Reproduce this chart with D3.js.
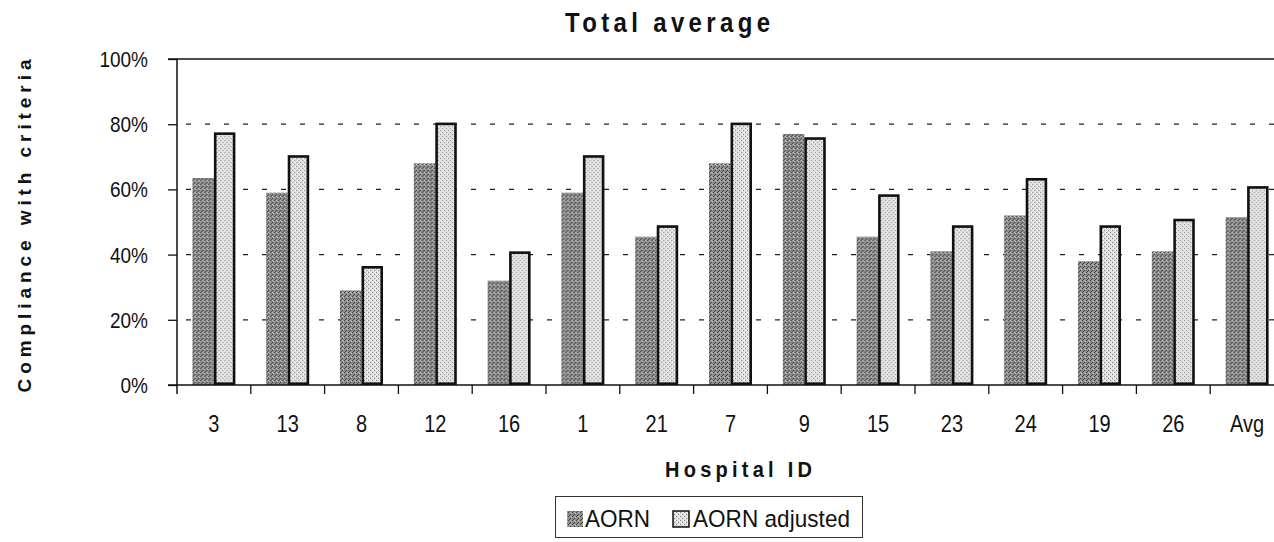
<!DOCTYPE html>
<html>
<head>
<meta charset="utf-8">
<script src="https://cdn.jsdelivr.net/npm/d3@7"></script>
<style>
  html, body { margin: 0; padding: 0; background: #fff; }
  svg { display: block; }
  text { font-family: Arial, "Liberation Sans", "DejaVu Sans", sans-serif; font-stretch: normal; fill: #111; }
</style>
</head>
<body>
<svg id="chart" width="1274" height="542"></svg>
<script>
// Hospital IDs along the x axis
const hospitals = ["3", "13", "8", "12", "16", "1", "21", "7", "9", "15", "23", "24", "19", "26", "Avg"];
// Compliance with criteria (%)
const aorn         = [63.5, 59, 29, 68, 32, 59, 45.5, 68, 77, 45.5, 41, 52, 38, 41, 51.5];
const aornAdjusted = [77.5, 70.5, 36.5, 80.5, 41, 70.5, 49, 80.5, 76, 58.5, 49, 63.5, 49, 51, 61];
const seriesNames  = ["AORN", "AORN adjusted"];
const yTicks       = [0, 20, 40, 60, 80, 100];

const svg = d3.select("#chart");
const STRETCH = 1.12;   // tall glyph proportion used by the labels

// textures for the two series
const defs = svg.append("defs");
const dark = defs.append("pattern").attr("id", "texDark")
  .attr("patternUnits", "userSpaceOnUse").attr("width", 4).attr("height", 4);
dark.append("rect").attr("width", 4).attr("height", 4).attr("fill", "#8e8e8e");
[[0,0],[2,2],[1,3]].forEach(([x,y]) => dark.append("rect").attr("x", x).attr("y", y)
  .attr("width", 1).attr("height", 1).attr("fill", "#444"));
[[2,0],[3,1]].forEach(([x,y]) => dark.append("rect").attr("x", x).attr("y", y)
  .attr("width", 1).attr("height", 1).attr("fill", "#bdbdbd"));

const light = defs.append("pattern").attr("id", "texLight")
  .attr("patternUnits", "userSpaceOnUse").attr("width", 4).attr("height", 4);
light.append("rect").attr("width", 4).attr("height", 4).attr("fill", "#dedede");
[[0,0],[2,2]].forEach(([x,y]) => light.append("rect").attr("x", x).attr("y", y)
  .attr("width", 1).attr("height", 1).attr("fill", "#8a8a8a"));
[[1,2],[3,0]].forEach(([x,y]) => light.append("rect").attr("x", x).attr("y", y)
  .attr("width", 1).attr("height", 1).attr("fill", "#ffffff"));

const plot = { left: 177, right: 1284, top: 59, bottom: 385 };

const x0 = d3.scaleBand().domain(hospitals).range([plot.left, plot.right]).padding(0);
const x1 = d3.scaleBand().domain(seriesNames).range([0, 43]).padding(0);
const groupOffset = (x0.bandwidth() - 43) / 2;
const y = d3.scaleLinear().domain([0, 100]).range([plot.bottom, plot.top]);

// dashed gridlines
svg.append("g").selectAll("line").data(yTicks.filter(t => t > 0 && t < 100)).join("line")
  .attr("x1", plot.left).attr("x2", 1274)
  .attr("y1", d => y(d)).attr("y2", d => y(d))
  .attr("stroke", "#222").attr("stroke-width", 1.3).attr("stroke-dasharray", "5,14")
  .attr("stroke-dashoffset", -9);

// solid line at 100%
svg.append("line").attr("x1", 168).attr("x2", 1274)
  .attr("y1", y(100)).attr("y2", y(100))
  .attr("stroke", "#111").attr("stroke-width", 1.5);

// bars
const rows = hospitals.map((h, i) => ({ h, vals: [aorn[i], aornAdjusted[i]] }));
const groups = svg.append("g").selectAll("g").data(rows).join("g")
  .attr("transform", d => `translate(${x0(d.h) + groupOffset},0)`);

groups.append("rect")
  .attr("x", x1("AORN"))
  .attr("width", x1.bandwidth())
  .attr("y", d => y(d.vals[0]))
  .attr("height", d => y(0) - y(d.vals[0]))
  .attr("fill", "url(#texDark)");

const sw = 2.6;
groups.append("rect")
  .attr("x", x1("AORN adjusted") + sw / 2)
  .attr("width", x1.bandwidth() - sw)
  .attr("y", d => y(d.vals[1]) + sw / 2)
  .attr("height", d => y(0) - y(d.vals[1]) - sw)
  .attr("fill", "url(#texLight)")
  .attr("stroke", "#111").attr("stroke-width", sw);

// y axis
const yAxis = svg.append("g").attr("transform", `translate(${plot.left},0)`)
  .call(d3.axisLeft(y).tickValues(yTicks).tickSize(9).tickFormat(d => d + "%"));
yAxis.select(".domain").remove();
yAxis.selectAll(".tick line").attr("stroke", "#111").attr("stroke-width", 1.3);
yAxis.selectAll(".tick text")
  .attr("x", null).attr("dy", null)
  .attr("font-size", 19)
  .attr("text-anchor", "end")
  .attr("transform", `translate(-29,7.5) scale(1,1.17)`);
svg.append("line").attr("x1", plot.left).attr("x2", plot.left)
  .attr("y1", plot.top).attr("y2", plot.bottom + 9)
  .attr("stroke", "#111").attr("stroke-width", 1.5);

// x axis
const xAxis = svg.append("g").attr("transform", `translate(0,${plot.bottom})`)
  .call(d3.axisBottom(x0).tickSize(0).tickPadding(0));
xAxis.select(".domain").remove();
xAxis.selectAll(".tick text")
  .attr("y", null).attr("dy", null)
  .attr("font-size", 20)
  .attr("transform", `translate(0,47) scale(1,1.17)`);
svg.append("line").attr("x1", 168).attr("x2", 1274)
  .attr("y1", plot.bottom).attr("y2", plot.bottom)
  .attr("stroke", "#111").attr("stroke-width", 1.5);
// category separators
svg.append("g").selectAll("line").data(hospitals.slice(1)).join("line")
  .attr("x1", d => x0(d)).attr("x2", d => x0(d))
  .attr("y1", plot.bottom).attr("y2", plot.bottom + 9)
  .attr("stroke", "#111").attr("stroke-width", 1.3);

// titles
svg.append("text").text("Total average")
  .attr("font-weight", "bold").attr("font-size", 24)
  .attr("textLength", 205).attr("lengthAdjust", "spacing")
  .attr("transform", `translate(565,32) scale(1,${STRETCH})`);

svg.append("text").text("Hospital ID")
  .attr("font-weight", "bold").attr("font-size", 20)
  .attr("textLength", 147).attr("lengthAdjust", "spacing")
  .attr("transform", `translate(665,477) scale(1,${STRETCH})`);

svg.append("text").text("Compliance with criteria")
  .attr("font-weight", "bold").attr("font-size", 19)
  .attr("text-anchor", "middle")
  .attr("textLength", 333).attr("lengthAdjust", "spacing")
  .attr("transform", "translate(31,226) rotate(-90)");

// legend
const lg = svg.append("g");
lg.append("rect").attr("x", 555.5).attr("y", 496.5).attr("width", 307).attr("height", 41)
  .attr("fill", "#fff").attr("stroke", "#333").attr("stroke-width", 1);
const items = [
  { name: seriesNames[0], fill: "url(#texDark)", stroke: "none", sx: 567, tx: 585, tw: 65 },
  { name: seriesNames[1], fill: "url(#texLight)", stroke: "#111", sx: 673, tx: 693, tw: 157 }
];
items.forEach(it => {
  lg.append("rect").attr("x", it.sx).attr("y", 511).attr("width", 16).attr("height", 16)
    .attr("fill", it.fill).attr("stroke", it.stroke).attr("stroke-width", 1.5);
  lg.append("text").text(it.name)
    .attr("font-size", 22.5)
    .attr("textLength", it.tw).attr("lengthAdjust", "spacing")
    .attr("transform", `translate(${it.tx},527) scale(1,1.07)`);
});
</script>
</body>
</html>
